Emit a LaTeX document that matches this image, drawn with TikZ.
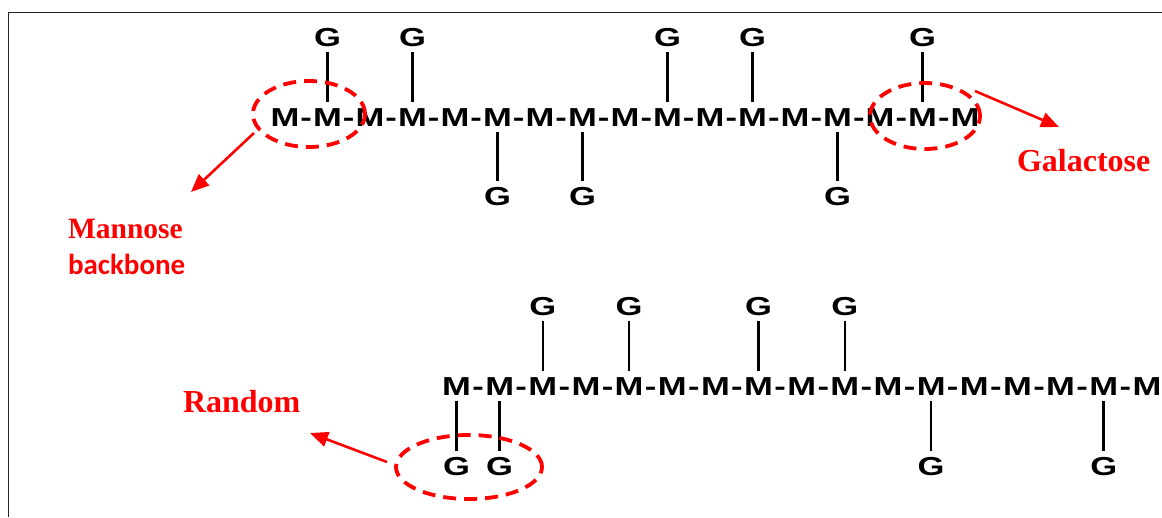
\documentclass[tikz,border=0pt]{standalone}
\usepackage{fontspec}
\setmainfont{Liberation Serif}
\newfontfamily\chainfont[FakeStretch=1.33]{Liberation Sans}
\newfontfamily\calfont{Carlito}
\usetikzlibrary{arrows.meta,shapes.geometric}
\begin{document}
\begin{tikzpicture}[x=1pt,y=-1pt,
  mono/.style={font=\chainfont\bfseries\fontsize{26}{26}\selectfont, inner sep=0pt, outer sep=0pt, text height=18.7pt, text depth=0pt, anchor=base},
  bond/.style={line width=2.6pt, shorten <=6pt, shorten >=5pt},
  ring/.style={ellipse, draw=red, line width=3.8pt, dash pattern=on 13pt off 8pt, inner sep=0pt, outer sep=0pt},
  pointer/.style={draw=red, line width=2.6pt, -{Triangle[length=18pt,width=15pt]}},
  lbl/.style={text=red, anchor=base west, inner sep=0pt, outer sep=0pt}
]
\useasboundingbox (0,0) rectangle (1162,517);
% frame
\draw[line width=1.7pt, black!85] (8.5,517) -- (8.5,12.5) -- (1162,12.5);

% top chain
\foreach \i in {1,...,17} \node[mono] (t\i) at ({285+42.5*(\i-1)},126) {M};
\foreach \i in {1,...,16} \node[mono] (td\i) at ({285+42.5*(\i-0.5)},126) {-};
\foreach \i in {2,4,10,12,16} {
  \node[mono] (tu\i) at ({285+42.5*(\i-1)},46) {G};
  \draw[bond] (tu\i) -- (t\i);
}
\foreach \i in {6,8,14} {
  \node[mono] (tl\i) at ({285+42.5*(\i-1)},205) {G};
  \draw[bond] (t\i) -- (tl\i);
}

% bottom chain
\foreach \i in {1,...,17} \node[mono] (b\i) at ({456.5+43.15*(\i-1)},395) {M};
\foreach \i in {1,...,16} \node[mono] (bd\i) at ({456.5+43.15*(\i-0.5)},395) {-};
\foreach \i in {3,5,8,10} {
  \node[mono] (bu\i) at ({456.5+43.15*(\i-1)},315) {G};
  \draw[bond] (bu\i) -- (b\i);
}
\foreach \i in {1,2,12,16} {
  \node[mono] (bl\i) at ({456.5+43.15*(\i-1)},475) {G};
  \draw[bond] (b\i) -- (bl\i);
}

% dashed rings
\node[ring, minimum width=112pt, minimum height=66pt] (e1) at (309,114) {};
\node[ring, minimum width=110pt, minimum height=66pt] (e2) at (925,116) {};
\node[ring, minimum width=146pt, minimum height=64pt] (e3) at (469,467) {};

% labels
\node[lbl, font=\bfseries\fontsize{29.5}{30}\selectfont] (mannose) at (68,238) {Mannose};
\node[lbl, font=\calfont\bfseries\fontsize{29}{30}\selectfont] (backbone) at (68,274) {backbone};
\node[lbl, font=\bfseries\fontsize{32}{32}\selectfont] (galactose) at (1017,171) {Galactose};
\node[lbl, font=\bfseries\fontsize{32}{32}\selectfont] (random) at (183,412) {Random};

% pointers
\coordinate (p1s) at (254,133); \coordinate (p1e) at (191,192);
\coordinate (p2s) at (975,91);  \coordinate (p2e) at (1059,127);
\coordinate (p3s) at (387,462); \coordinate (p3e) at (310,433);
\draw[pointer] (p1s) -- (p1e);
\draw[pointer] (p2s) -- (p2e);
\draw[pointer] (p3s) -- (p3e);
\end{tikzpicture}
\end{document}
